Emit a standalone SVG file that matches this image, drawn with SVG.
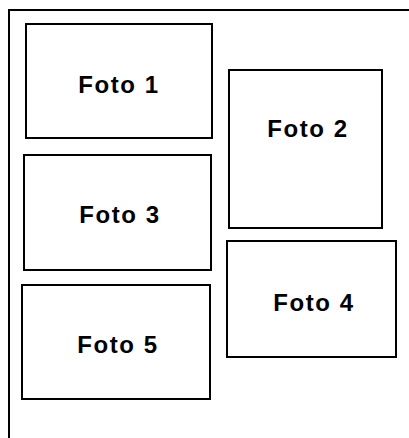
<svg xmlns="http://www.w3.org/2000/svg" width="409" height="438" viewBox="0 0 409 438">
<style>
.frame{fill:none;stroke:#000;stroke-width:2}
.box{fill:#fff;stroke:#000;stroke-width:2}
.lbl{font-family:"Liberation Sans",Arial,sans-serif;font-weight:bold;font-size:24px;letter-spacing:1.6px;fill:#000;text-anchor:middle}
</style>
<rect x="0" y="0" width="409" height="438" fill="#fff"/>
<path class="frame" d="M9,440 L9,10 L411,10"/>
<g id="foto1"><rect class="box" x="26" y="24" width="186" height="114"/><text class="lbl" x="119" y="93">Foto 1</text></g>
<g id="foto2"><rect class="box" x="229" y="70" width="153" height="158"/><text class="lbl" x="308" y="137">Foto 2</text></g>
<g id="foto3"><rect class="box" x="24" y="155" width="187" height="115"/><text class="lbl" x="120" y="223">Foto 3</text></g>
<g id="foto4"><rect class="box" x="227" y="241" width="169" height="116"/><text class="lbl" x="314" y="311">Foto 4</text></g>
<g id="foto5"><rect class="box" x="22" y="285" width="188" height="114"/><text class="lbl" x="118" y="353">Foto 5</text></g>
<g id="connectors"/>
</svg>
